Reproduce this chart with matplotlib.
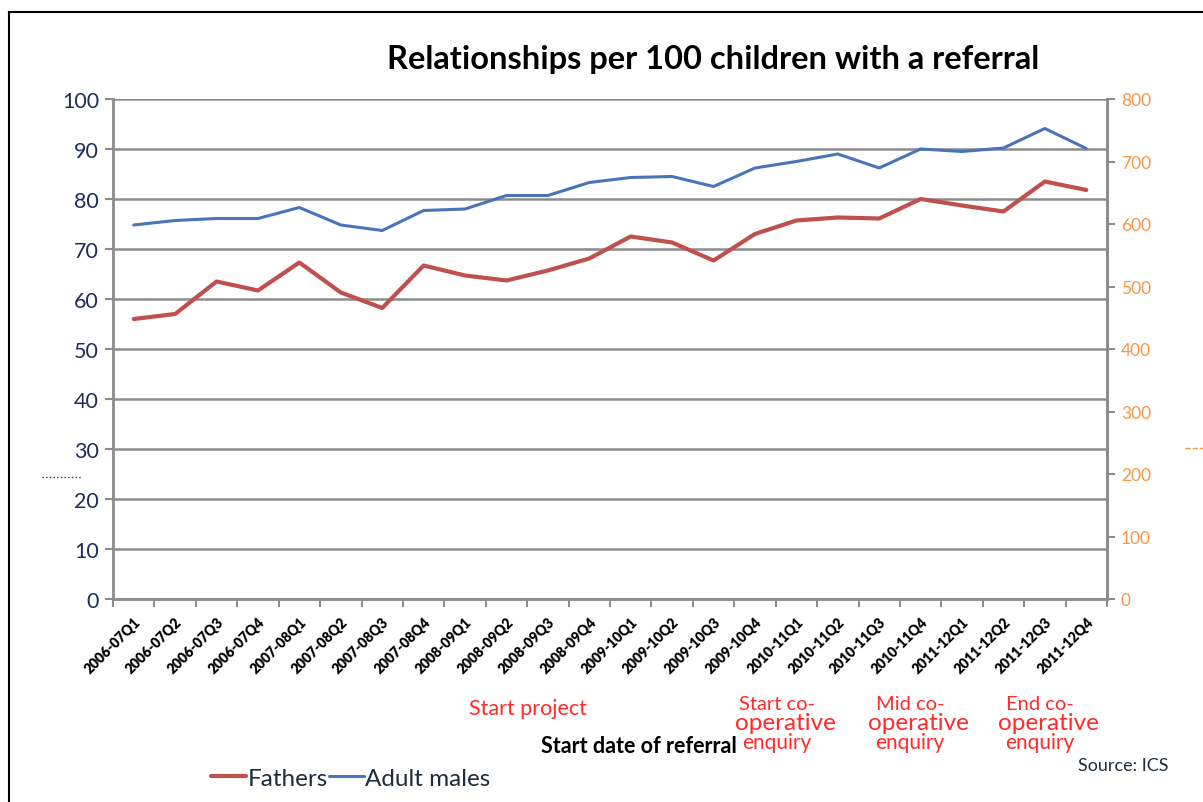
import matplotlib
matplotlib.use('Agg')
import matplotlib.pyplot as plt
from matplotlib.lines import Line2D

plt.rcParams['font.family'] = ['Lato', 'DejaVu Sans']

quarters = ['2006-07Q1', '2006-07Q2', '2006-07Q3', '2006-07Q4',
            '2007-08Q1', '2007-08Q2', '2007-08Q3', '2007-08Q4',
            '2008-09Q1', '2008-09Q2', '2008-09Q3', '2008-09Q4',
            '2009-10Q1', '2009-10Q2', '2009-10Q3', '2009-10Q4',
            '2010-11Q1', '2010-11Q2', '2010-11Q3', '2010-11Q4',
            '2011-12Q1', '2011-12Q2', '2011-12Q3', '2011-12Q4']
fathers = [56.0, 57.0, 63.5, 61.7, 67.3, 61.3, 58.2, 66.7,
           64.7, 63.7, 65.7, 68.1, 72.5, 71.3, 67.7, 73.0,
           75.7, 76.3, 76.1, 80.0, 78.7, 77.5, 83.5, 81.8]
adult_males = [74.8, 75.7, 76.1, 76.1, 78.3, 74.8, 73.7, 77.7,
               78.0, 80.7, 80.7, 83.3, 84.3, 84.5, 82.5, 86.2,
               87.5, 89.0, 86.2, 90.0, 89.5, 90.2, 94.1, 90.1]
left_ticks = [0, 10, 20, 30, 40, 50, 60, 70, 80, 90, 100]
right_ticks = [0, 100, 200, 300, 400, 500, 600, 700, 800]

grey = '#8c8c8c'
red = '#C0504D'
blue = '#4A74BA'
annot = '#FF2A2A'

fig = plt.figure(figsize=(12.03, 8.03), dpi=100)
ax = fig.add_axes([113/1203, 1 - 600/803, 994/1203, 500/803])

x = list(range(len(quarters)))
ax.plot(x, fathers, color=red, lw=3, label='Fathers', solid_capstyle='round')
ax.plot(x, adult_males, color=blue, lw=2.2, label='Adult males', solid_capstyle='round')

ax.set_xlim(-0.5, len(quarters) - 0.5)
ax.set_ylim(0, 100)
ax.set_yticks(left_ticks)
ax.tick_params(axis='y', colors=grey, labelcolor='#1f2d5a', labelsize=15.5,
               length=6, width=1.5, pad=4)
ax.yaxis.grid(True, color=grey, lw=1.8)
ax.set_axisbelow(True)

# category boundaries get tick marks, labels sit at the centres
ax.set_xticks([i - 0.5 for i in range(len(quarters) + 1)])
ax.set_xticklabels([])
ax.tick_params(axis='x', colors=grey, length=6, width=1.5)
ax.set_xticks(x, minor=True)
ax.set_xticklabels(quarters, minor=True, rotation=45, ha='right',
                   rotation_mode='anchor', fontsize=10, fontweight='heavy',
                   color='black')
ax.tick_params(axis='x', which='minor', length=0, pad=11)

ax.spines['top'].set_visible(False)
for side in ['left', 'bottom', 'right']:
    ax.spines[side].set_color(grey)
    ax.spines[side].set_linewidth(2)

ax2 = ax.twinx()
ax2.set_ylim(0, 800)
ax2.set_yticks(right_ticks)
ax2.tick_params(axis='y', colors=grey, labelcolor='#F79646', labelsize=12.5,
                length=6, width=1.5, pad=4)
for side in ['top', 'left', 'bottom']:
    ax2.spines[side].set_visible(False)
ax2.spines['right'].set_color(grey)
ax2.spines['right'].set_linewidth(2)

fig.text(713/1203, 1 - 60/803, 'Relationships per 100 children with a referral',
         ha='center', va='center', fontsize=23.5, fontweight='bold')
fig.text(639/1203, 1 - 747/803, 'Start date of referral', ha='center',
         va='center', fontsize=15.5, fontweight='bold')

fig.text(528/1203, 1 - 709/803, 'Start project', ha='center', va='center',
         fontsize=15.5, color=annot)
for cx, first in [(785, 'Start co-'), (918, 'Mid co-'), (1048, 'End co-')]:
    fig.text((cx - 8)/1203, 1 - 705/803, first, ha='center', va='center',
             fontsize=14.5, color=annot)
    fig.text(cx/1203, 1 - 724/803, 'operative', ha='center', va='center',
             fontsize=17.5, color=annot)
    fig.text((cx - 8)/1203, 1 - 743/803, 'enquiry', ha='center', va='center',
             fontsize=15, color=annot)

fig.text(1123/1203, 1 - 766/803, 'Source: ICS', ha='center', va='center',
         fontsize=13, color='#1f2d3a')

ax.legend(loc='center left', bbox_to_anchor=(211/1203, 1 - 779/803),
          bbox_transform=fig.transFigure, ncol=2, frameon=False, fontsize=17.5,
          handlelength=1.45, handletextpad=0.05, columnspacing=0.05,
          borderpad=0, borderaxespad=0, labelcolor='#1f2d3a')

# outer frame and stray marks from the original sheet
fig.add_artist(Line2D([9/1203, 9/1203], [0, 1 - 13/803], color='black', lw=1.5))
fig.add_artist(Line2D([9/1203, 1], [1 - 13/803, 1 - 13/803], color='black', lw=1.5))
fig.add_artist(Line2D([42/1203, 82/1203], [1 - 478/803, 1 - 478/803],
                      color='#333355', lw=1, ls=':'))
fig.add_artist(Line2D([1185/1203, 1203/1203], [1 - 449/803, 1 - 449/803],
                      color='#F79646', lw=1, ls='--'))

fig.savefig('out.png', dpi=100)
